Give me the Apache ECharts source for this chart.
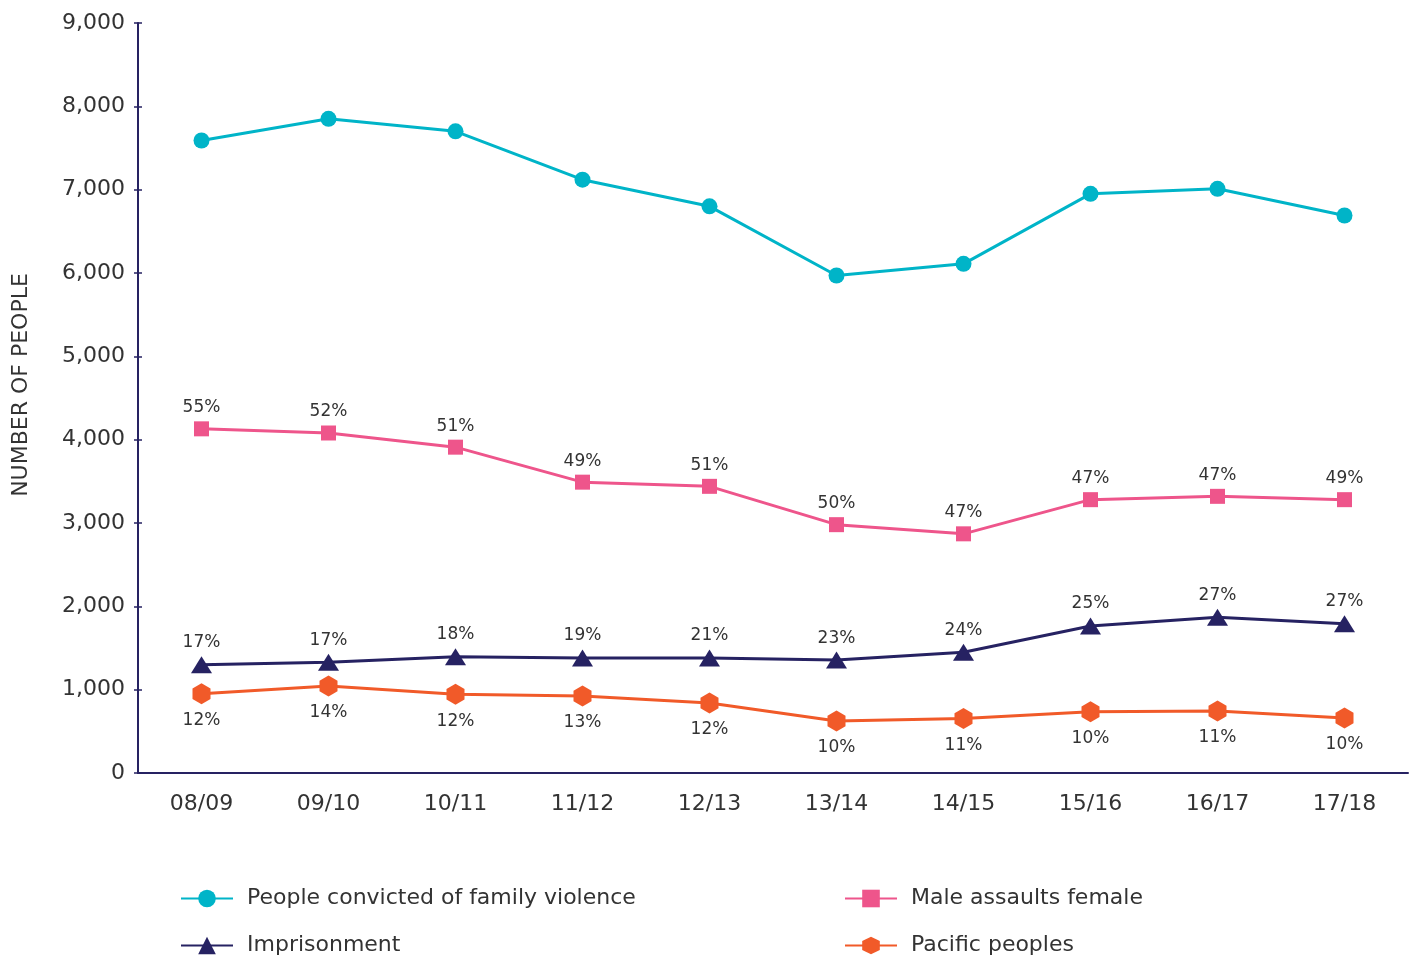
<!DOCTYPE html>
<html><head><meta charset="utf-8">
<script src="https://cdn.jsdelivr.net/npm/echarts@6/dist/echarts.min.js"></script>
<style>html,body{margin:0;padding:0;background:#fff}#c{width:1416px;height:960px}</style>
</head><body><div id="c"></div>
<script>
const categories = ['08/09','09/10','10/11','11/12','12/13','13/14','14/15','15/16','16/17','17/18'];
const convicted = [7590, 7850, 7700, 7120, 6800, 5970, 6110, 6950, 7010, 6690];
const maleAssaults = [4130, 4080, 3910, 3490, 3440, 2980, 2870, 3280, 3320, 3280];
const imprisonment = [1300, 1330, 1395, 1380, 1380, 1355, 1450, 1765, 1870, 1790];
const pacific = [950, 1045, 945, 925, 840, 625, 655, 735, 745, 660];
const malePct = ['55%','52%','51%','49%','51%','50%','47%','47%','47%','49%'];
const imprPct = ['17%','17%','18%','19%','21%','23%','24%','25%','27%','27%'];
const pacPct = ['12%','14%','12%','13%','12%','10%','11%','10%','11%','10%'];
const legendOrder = ['People convicted of family violence', 'Male assaults female', 'Imprisonment', 'Pacific peoples'];

const FONT = 'DejaVu Sans';
const TXT = '#333333';
const NAVY = '#262262';
const hex = 'path://M50,0 L93.3,25 L93.3,75 L50,100 L6.7,75 L6.7,25 Z';

const chart = echarts.init(document.getElementById('c'));
const lbl = (arr, pos, dist) => ({
  show: true, position: pos, distance: dist,
  formatter: p => arr[p.dataIndex],
  color: TXT, fontFamily: FONT, fontSize: 17
});
const firstCol = new Set(['People convicted of family violence', 'Imprisonment']);
chart.setOption({
  animation: false,
  textStyle: { fontFamily: FONT },
  grid: { left: 138, right: 8, top: 23, bottom: 187 },
  xAxis: [{
    type: 'category', data: categories, boundaryGap: true,
    axisLine: { lineStyle: { color: NAVY, width: 2 } },
    axisTick: { alignWithLabel: true, length: 4, lineStyle: { color: NAVY, width: 1.5 } },
    axisLabel: { color: TXT, fontSize: 22, fontFamily: FONT, margin: 20 }
  }, {
    type: 'category', data: categories, boundaryGap: true, position: 'bottom',
    axisLine: { show: false },
    axisTick: { inside: true, alignWithLabel: true, length: 4, lineStyle: { color: NAVY, width: 1.5 } },
    axisLabel: { show: false }
  }],
  yAxis: [{
    type: 'value', min: 0, max: 9000, interval: 1000,
    name: 'NUMBER OF PEOPLE', nameLocation: 'middle', nameGap: 106,
    nameTextStyle: { color: TXT, fontSize: 22, fontFamily: FONT, padding: [0, 0, 0, 26] },
    axisLine: { show: true, lineStyle: { color: NAVY, width: 2 } },
    axisTick: { show: true, length: 4, lineStyle: { color: NAVY, width: 1.5 } },
    axisLabel: { color: TXT, fontSize: 22, fontFamily: FONT, margin: 13,
      formatter: v => v.toLocaleString('en-US') },
    splitLine: { show: false }
  }, {
    type: 'value', min: 0, max: 9000, interval: 1000, position: 'left',
    axisLine: { show: false },
    axisTick: { show: true, inside: true, length: 4, lineStyle: { color: NAVY, width: 1.5 } },
    axisLabel: { show: false }, splitLine: { show: false }
  }],
  legend: {
    left: 180, top: 882, width: 1230, orient: 'horizontal', itemGap: 14,
    itemWidth: 52, itemHeight: 22, padding: 0,
    textStyle: { color: TXT, fontSize: 22, fontFamily: FONT, lineHeight: 33, padding: [0, 0, 0, 9] },
    data: legendOrder.map(n => firstCol.has(n) ? { name: n, textStyle: { width: 583 } } : { name: n })
  },
  series: [{
    name: 'People convicted of family violence', type: 'line', data: convicted,
    color: '#00B4C8', symbol: 'circle', symbolSize: 16,
    lineStyle: { width: 3 }, itemStyle: { color: '#00B4C8' }
  }, {
    name: 'Male assaults female', type: 'line', data: maleAssaults,
    color: '#EE558B', symbol: 'rect', symbolSize: 15,
    lineStyle: { width: 3 }, itemStyle: { color: '#EE558B' },
    label: lbl(malePct, 'top', 5)
  }, {
    name: 'Imprisonment', type: 'line', data: imprisonment,
    color: NAVY, symbol: 'triangle', symbolSize: [21, 17],
    lineStyle: { width: 3 }, itemStyle: { color: NAVY },
    label: lbl(imprPct, 'top', 5)
  }, {
    name: 'Pacific peoples', type: 'line', data: pacific,
    color: '#F15A29', symbol: hex, symbolSize: [18, 21],
    lineStyle: { width: 3 }, itemStyle: { color: '#F15A29' },
    label: lbl(pacPct, 'bottom', 8)
  }]
});
</script></body></html>
